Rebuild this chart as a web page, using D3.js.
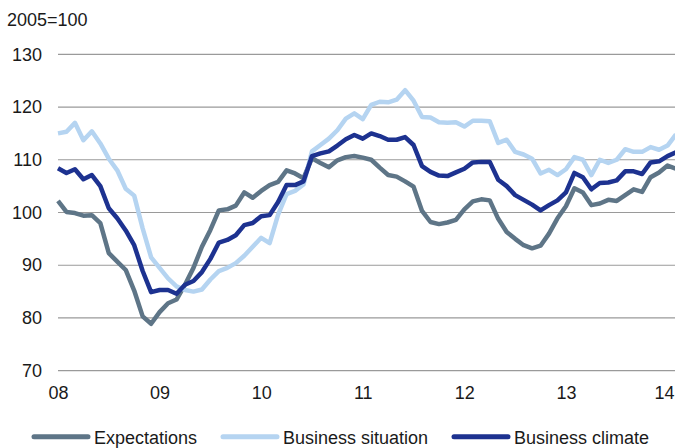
<!DOCTYPE html>
<html>
<head>
<meta charset="utf-8">
<script src="https://cdn.jsdelivr.net/npm/d3@7"></script>
<style>
  body { margin: 0; background: #fff; }
  svg text { font-family: "Liberation Sans", Arial, sans-serif; fill: #1a1a1a; }
</style>
</head>
<body>
<svg id="chart" width="675" height="448"></svg>
<script>
// monthly values, Jan 2008 .. Feb 2014 (2005=100)
var yearLabels = ["08", "09", "10", "11", "12", "13", "14"];
var yTicks = [70, 80, 90, 100, 110, 120, 130];
var seriesNames = ["Expectations", "Business situation", "Business climate"];

var expectations = [
  102.2, 100.1, 99.9, 99.4, 99.5, 98.0, 92.3, 90.7, 89.1, 85.2, 80.3, 78.9,
  81.1, 82.8, 83.5, 86.3, 89.5, 93.5, 96.7, 100.4, 100.6, 101.3, 103.8, 102.8,
  104.1, 105.2, 105.8, 108.0, 107.4, 106.5, 110.3, 109.4, 108.6, 109.9, 110.5, 110.7,
  110.4, 110.0, 108.5, 107.1, 106.8, 105.9, 104.9, 100.3, 98.2, 97.8, 98.1, 98.6,
  100.6, 102.1, 102.5, 102.3, 98.8, 96.3, 95.0, 93.8, 93.2, 93.7, 96.0, 98.9,
  101.2, 104.6, 103.8, 101.4, 101.7, 102.4, 102.2, 103.3, 104.4, 103.9, 106.7, 107.6,
  108.9, 108.3
];
var businessSituation = [
  115.0, 115.3, 117.0, 113.7, 115.4, 113.1, 110.2, 108.0, 104.5, 103.2, 97.0, 91.5,
  89.5, 87.5, 86.0, 85.3, 85.0, 85.4, 87.3, 88.9, 89.5, 90.4, 91.8, 93.5,
  95.2, 94.2, 99.6, 103.5, 104.1, 105.3, 111.6, 112.8, 114.0, 115.6, 117.8, 118.8,
  117.7, 120.4, 121.0, 120.9, 121.4, 123.2, 121.2, 118.1, 118.0, 117.1, 117.0, 117.1,
  116.3, 117.4, 117.4, 117.3, 113.2, 113.8, 111.5, 111.0, 110.2, 107.4, 108.1, 107.1,
  108.2, 110.5, 110.0, 107.1, 110.0, 109.4, 110.0, 112.0, 111.5, 111.5, 112.4, 111.9,
  112.7, 114.8
];
var businessClimate = [
  108.4, 107.5, 108.2, 106.3, 107.1, 105.0, 100.8, 98.9, 96.6, 93.8, 88.9, 84.9,
  85.3, 85.3, 84.6, 86.3, 87.0, 88.7, 91.2, 94.3, 94.8, 95.7, 97.6, 98.0,
  99.3, 99.5, 102.0, 105.2, 105.2, 105.9, 110.7, 111.2, 111.6, 112.7, 113.9, 114.7,
  114.0, 115.0, 114.5, 113.8, 113.8, 114.3, 112.8, 108.8, 107.7, 107.0, 106.9, 107.6,
  108.3, 109.5, 109.6, 109.6, 106.2, 105.0, 103.3, 102.4, 101.5, 100.4, 101.4, 102.3,
  103.8, 107.5, 106.7, 104.4, 105.6, 105.7, 106.1, 107.8, 107.8, 107.3, 109.5, 109.7,
  110.7, 111.4
];
var colors = ["#5e7587", "#b5d4f1", "#1d3290"];

var svg = d3.select("#chart");
var plotLeft = 58, plotRight = 676, plotTop = 54.3, plotBottom = 370.7;

var x = d3.scaleLinear().domain([0, expectations.length - 1]).range([plotLeft, plotRight]);
var y = d3.scaleLinear().domain([70, 130]).range([plotBottom, plotTop]);

// gridlines
svg.append("g").selectAll("line").data(yTicks).enter().append("line")
  .attr("x1", plotLeft).attr("x2", 675)
  .attr("y1", function(d){ return y(d); })
  .attr("y2", function(d){ return y(d); })
  .attr("stroke", "#9a9a9a").attr("stroke-width", 1.2);

// y axis labels
var yAxis = d3.axisLeft(y).tickValues(yTicks).tickSize(0).tickPadding(0);
var gy = svg.append("g").attr("transform", "translate(42,0)").call(yAxis);
gy.select(".domain").remove();
gy.selectAll("text").style("font-size", "18px").attr("fill", "#1a1a1a")
  .style("font-family", "Liberation Sans, Arial, sans-serif");

// x axis labels, one per January
var xAxis = d3.axisBottom(x).tickValues(d3.range(0, 73, 12))
  .tickFormat(function(d, i){ return yearLabels[i]; }).tickSize(0).tickPadding(0);
var gx = svg.append("g").attr("transform", "translate(0,386.5)").call(xAxis);
gx.select(".domain").remove();
gx.selectAll("text").style("font-size", "18px").attr("fill", "#1a1a1a")
  .style("font-family", "Liberation Sans, Arial, sans-serif");
// last label pulled in so it stays inside the picture
gx.selectAll(".tick").filter(function(d){ return d == 72; }).select("text")
  .attr("text-anchor", "end").attr("x", 674 - x(72));

svg.append("text").attr("x", 7).attr("y", 26).style("font-size", "18px").text("2005=100");

// lines
var line = d3.line().x(function(d, i){ return x(i); }).y(function(d){ return y(d); });
var allSeries = [expectations, businessSituation, businessClimate];
var plot = svg.append("g");
allSeries.forEach(function(s, k){
  plot.append("path").datum(s).attr("d", line)
    .attr("fill", "none").attr("stroke", colors[k]).attr("stroke-width", 4.5)
    .attr("stroke-linejoin", "round");
});

// legend
var legX = [34, 223, 454];
var leg = svg.append("g").selectAll("g").data(seriesNames).enter().append("g")
  .attr("transform", function(d, i){ return "translate(" + legX[i] + ",0)"; });
leg.append("line").attr("x1", 0).attr("x2", 54).attr("y1", 436.7).attr("y2", 436.7)
  .attr("stroke", function(d, i){ return colors[i]; })
  .attr("stroke-width", 5).attr("stroke-linecap", "round");
leg.append("text").attr("x", 60).attr("y", 443.5).style("font-size", "18px")
  .text(function(d){ return d; });
</script>
</body>
</html>
